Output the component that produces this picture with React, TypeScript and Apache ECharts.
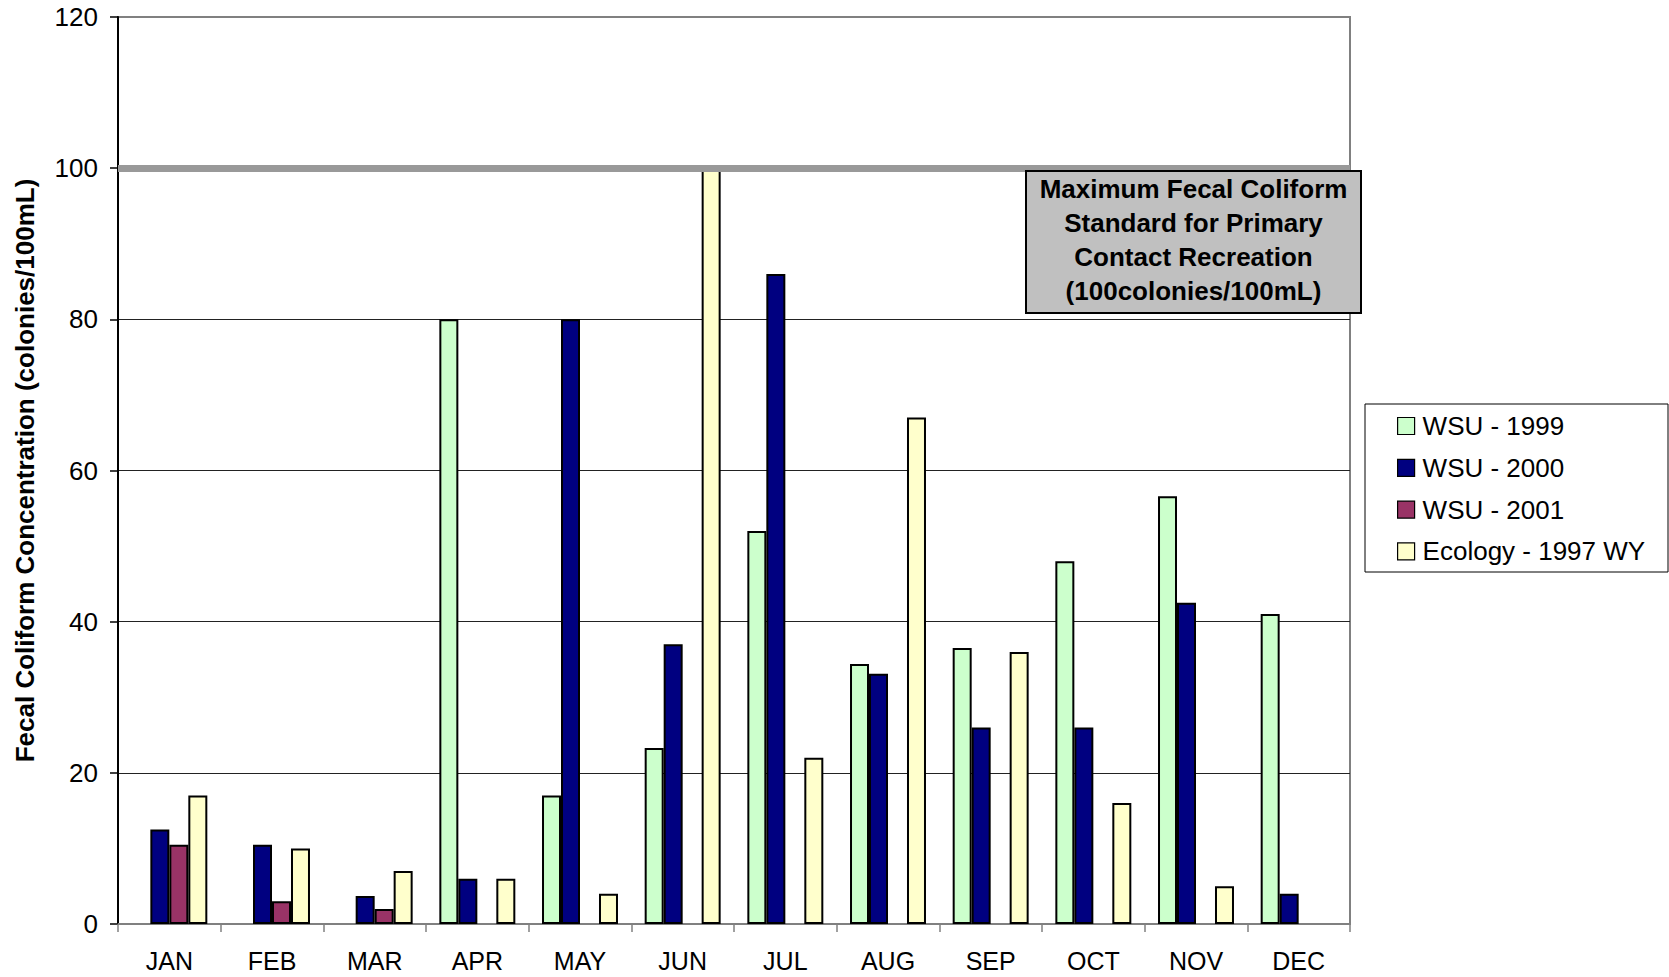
import React, { useEffect, useRef } from "react";
import * as echarts from "echarts";

const months = ["JAN", "FEB", "MAR", "APR", "MAY", "JUN", "JUL", "AUG", "SEP", "OCT", "NOV", "DEC"];
const wsu1999 = [null, null, null, 80, 17, 23.3, 52, 34.4, 36.5, 48, 56.6, 41];
const wsu2000 = [12.5, 10.5, 3.7, 6, 80, 37, 86, 33.1, 26, 26, 42.5, 4];
const wsu2001 = [10.5, 3, 2, null, null, null, null, null, null, null, null, null];
const ecology1997 = [17, 10, 7, 6, 4, 100, 22, 67, 36, 16, 5, null];
const seriesNames = ["WSU - 1999", "WSU - 2000", "WSU - 2001", "Ecology - 1997 WY"];
const seriesColors = ["#CCFFCC", "#000080", "#993366", "#FFFFCC"];
const standardValue = 100;
const annotationLines = [
  "Maximum Fecal Coliform",
  "Standard for Primary",
  "Contact Recreation",
  "(100colonies/100mL)",
];
const yTitle = "Fecal Coliform Concentration (colonies/100mL)";

const FONT = "'Liberation Sans', Arial, Helvetica, sans-serif";

export default function App() {
  const ref = useRef<HTMLDivElement>(null);
  useEffect(() => {
    if (!ref.current) return;
    const chart = echarts.init(ref.current, null, { renderer: "svg" });
    const dataSets = [wsu1999, wsu2000, wsu2001, ecology1997];
    const series: any[] = dataSets.map((d, i) => ({
      name: seriesNames[i],
      type: "bar",
      data: d,
      barGap: "0%",
      barCategoryGap: "26%",
      itemStyle: { color: seriesColors[i], borderColor: "#000", borderWidth: 2 },
      emphasis: { disabled: true },
      ...(i === 0
        ? {
            markLine: {
              silent: true,
              symbol: "none",
              label: { show: false },
              lineStyle: { color: "#999999", width: 7, type: "solid" },
              data: [{ yAxis: standardValue }],
              z: 5,
            },
          }
        : {}),
    }));
    chart.setOption({
      animation: false,
      textStyle: { fontFamily: FONT },
      grid: {
        left: 118,
        right: 319,
        top: 17,
        bottom: 53,
        show: true,
        borderColor: "#808080",
        borderWidth: 2,
        backgroundColor: "transparent",
      },
      legend: {
        orient: "vertical",
        left: 1392,
        top: 408,
        itemWidth: 17,
        itemHeight: 17,
        itemGap: 15.8,
        z: 10,
        selectedMode: false,
        icon: "rect",
        itemStyle: { borderColor: "#000", borderWidth: 1.2 },
        textStyle: { fontSize: 26, color: "#000", lineHeight: 26, fontFamily: FONT, padding: [0, 0, 0, 3] },
        data: seriesNames,
      },
      xAxis: {
        type: "category",
        data: months,
        boundaryGap: true,
        axisLine: { show: true, lineStyle: { color: "#808080", width: 2 } },
        axisTick: { show: true, length: 8, lineStyle: { color: "#808080", width: 1.5 } },
        axisLabel: { fontSize: 25, color: "#000", margin: 24, fontFamily: FONT },
        splitLine: { show: false },
      },
      yAxis: {
        type: "value",
        min: 0,
        max: 120,
        interval: 20,
        name: yTitle,
        nameLocation: "middle",
        nameGap: 80,
        nameRotate: 90,
        nameTextStyle: { fontSize: 26, fontWeight: "bold", color: "#000", fontFamily: FONT },
        axisLine: { show: true, lineStyle: { color: "#000", width: 2 } },
        axisTick: { show: true, length: 8, lineStyle: { color: "#000", width: 1.5 } },
        axisLabel: { fontSize: 26, color: "#000", margin: 20, fontFamily: FONT },
        splitLine: { show: true, showMinLine: false, showMaxLine: false, lineStyle: { color: "#222", width: 1 } },
      },
      graphic: [
        {
          type: "rect",
          z: 1,
          shape: { x: 1365, y: 404, width: 303, height: 168 },
          style: { fill: "#fff", stroke: "#000", lineWidth: 1 },
        },
        {
          type: "rect",
          z: 20,
          shape: { x: 1026, y: 171, width: 335, height: 142 },
          style: { fill: "#C0C0C0", stroke: "#000", lineWidth: 2 },
        },
        {
          type: "text",
          z: 21,
          x: 1193.5,
          y: 240,
          style: {
            text: annotationLines.join("\n"),
            fontSize: 26,
            fontWeight: "bold",
            fontFamily: FONT,
            lineHeight: 34,
            fill: "#000",
            align: "center",
            verticalAlign: "middle",
          },
        },
      ],
      series,
    });
    return () => chart.dispose();
  }, []);
  return <div ref={ref} style={{ position: "fixed", left: 0, top: 0, width: 1669, height: 977, background: "#fff" }} />;
}
